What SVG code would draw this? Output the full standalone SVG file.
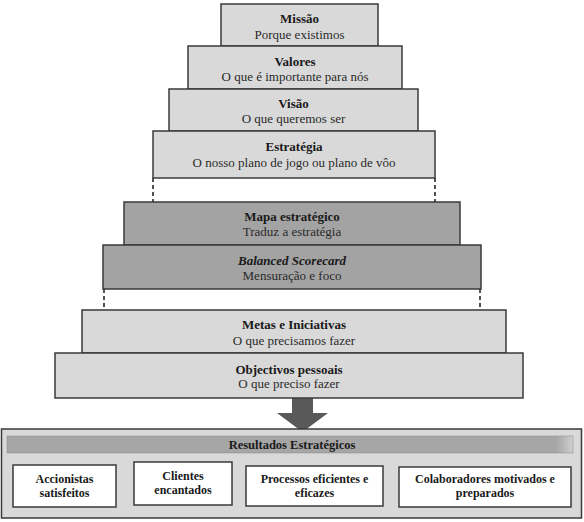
<svg xmlns="http://www.w3.org/2000/svg" width="584" height="522" viewBox="0 0 584 522">
<defs>
<linearGradient id="hdr" x1="0" y1="0" x2="1" y2="0">
<stop offset="0" stop-color="#a6a6a6"/>
<stop offset="0.97" stop-color="#a6a6a6"/>
<stop offset="1" stop-color="#cfcfcf"/>
</linearGradient>
</defs>
<style>
.lt{fill:#d9d9d9;stroke:#3a3a3a;stroke-width:1.5}
.dk{fill:#a3a3a3;stroke:#3a3a3a;stroke-width:1.5}
.wb{fill:#ffffff;stroke:#3a3a3a;stroke-width:1.5}
text{font-family:"Liberation Serif","Times New Roman",serif;text-anchor:middle;fill:#1a1a1a}
.t{font-size:13px;font-weight:bold}
.s{font-size:13px;fill:#2a2a2a}
.b{font-size:12px;font-weight:bold}
.dash{stroke:#1a1a1a;stroke-width:1.5;stroke-dasharray:4,3;fill:none}
</style>
<g id="connectors">
<line class="dash" x1="153" y1="178" x2="153" y2="202"/>
<line class="dash" x1="435" y1="178" x2="435" y2="202"/>
<line class="dash" x1="104" y1="289" x2="104" y2="310"/>
<line class="dash" x1="480" y1="289" x2="480" y2="310"/>
<polygon points="292,398 313,398 313,413 328,413 302.5,432 277,413 292,413" fill="#595959"/>
</g>
<g id="missao"><rect class="lt" x="221" y="4" width="157" height="42"/><text class="t" x="299.5" y="23">Missão</text><text class="s" x="299.5" y="39">Porque existimos</text></g>
<g id="valores"><rect class="lt" x="188" y="46" width="214" height="43"/><text class="t" x="295" y="66">Valores</text><text class="s" x="295" y="81">O que é importante para nós</text></g>
<g id="visao"><rect class="lt" x="169" y="89" width="249" height="42"/><text class="t" x="293.5" y="108">Visão</text><text class="s" x="293.5" y="123">O que queremos ser</text></g>
<g id="estrategia"><rect class="lt" x="153" y="131" width="282" height="47"/><text class="t" x="294" y="151">Estratégia</text><text class="s" x="294" y="167">O nosso plano de jogo ou plano de vôo</text></g>
<g id="mapa"><rect class="dk" x="124" y="202" width="336" height="43"/><text class="t" x="292" y="221">Mapa estratégico</text><text class="s" x="292" y="236">Traduz a estratégia</text></g>
<g id="bsc"><rect class="dk" x="103" y="245" width="378" height="44"/><text class="t" x="292" y="265" font-style="italic">Balanced Scorecard</text><text class="s" x="292" y="280">Mensuração e foco</text></g>
<g id="metas"><rect class="lt" x="82" y="310" width="424" height="43"/><text class="t" x="294" y="329">Metas e Iniciativas</text><text class="s" x="294" y="345">O que precisamos fazer</text></g>
<g id="objectivos"><rect class="lt" x="55" y="353" width="468" height="45"/><text class="t" x="289" y="374">Objectivos pessoais</text><text class="s" x="289" y="388">O que preciso fazer</text></g>
<g id="resultados">
<rect class="lt" x="1.5" y="429" width="580" height="89"/>
<rect x="7" y="436" width="566" height="17" fill="url(#hdr)" stroke="#8a8a8a" stroke-width="0.5"/>
<text class="t" x="292" y="449" style="font-size:12.5px">Resultados Estratégicos</text>
</g>
<g id="accionistas"><rect class="wb" x="13" y="465" width="103" height="42"/><text class="b" x="64.5" y="483">Accionistas</text><text class="b" x="64.5" y="497">satisfeitos</text></g>
<g id="clientes"><rect class="wb" x="134" y="462" width="98" height="43"/><text class="b" x="183" y="480">Clientes</text><text class="b" x="183" y="494">encantados</text></g>
<g id="processos"><rect class="wb" x="246" y="466" width="137" height="40"/><text class="b" x="314.5" y="483">Processos eficientes e</text><text class="b" x="314.5" y="497">eficazes</text></g>
<g id="colaboradores"><rect class="wb" x="399" y="467" width="172" height="40"/><text class="b" x="485" y="483">Colaboradores motivados e</text><text class="b" x="485" y="497">preparados</text></g>
</svg>
